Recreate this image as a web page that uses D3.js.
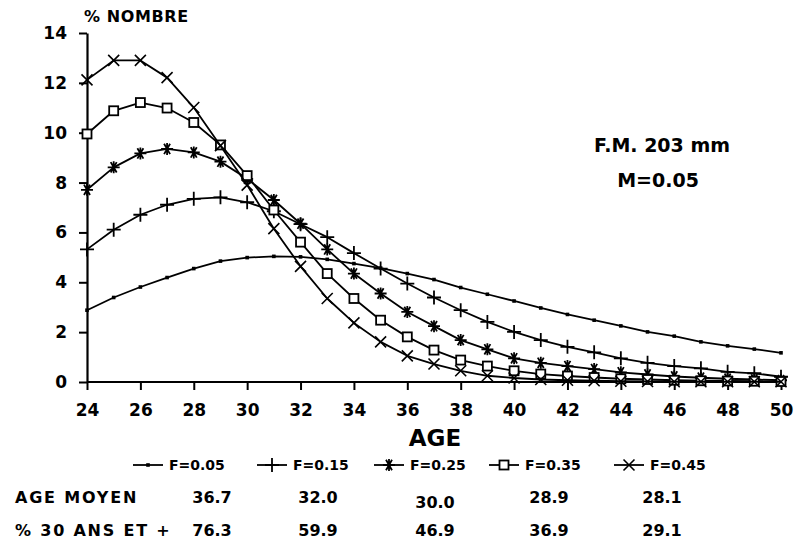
<!DOCTYPE html>
<html>
<head>
<meta charset="utf-8">
<script src="https://cdn.jsdelivr.net/npm/d3@7"></script>
<style>
  html, body { margin: 0; padding: 0; background: #fff; }
  svg { display: block; font-family: "DejaVu Sans", Arial, Helvetica, sans-serif; font-weight: bold; }
</style>
</head>
<body>
<svg id="chart" width="794" height="553"></svg>
<script>
// Ages (years) along the x axis
const ages = d3.range(24, 51);

// Percentage of fish at each age, one array per fishing mortality
const f005 = [2.88, 3.39, 3.81, 4.19, 4.55, 4.85, 4.99, 5.04, 5.02, 4.92, 4.75, 4.57, 4.35, 4.11,
              3.79, 3.52, 3.25, 2.97, 2.71, 2.48, 2.25, 2.01, 1.84, 1.61, 1.45, 1.32, 1.17];
const f015 = [5.32, 6.11, 6.71, 7.11, 7.35, 7.41, 7.21, 6.85, 6.33, 5.81, 5.17, 4.55, 3.95, 3.39,
              2.88, 2.41, 2.01, 1.68, 1.41, 1.19, 0.95, 0.77, 0.64, 0.55, 0.41, 0.35, 0.21];
const f025 = [7.71, 8.61, 9.17, 9.35, 9.21, 8.84, 8.15, 7.30, 6.35, 5.32, 4.35, 3.55, 2.81, 2.24,
              1.68, 1.31, 0.95, 0.77, 0.64, 0.52, 0.39, 0.30, 0.22, 0.17, 0.13, 0.10, 0.07];
const f035 = [9.95, 10.88, 11.21, 10.99, 10.41, 9.51, 8.28, 6.90, 5.61, 4.35, 3.35, 2.48, 1.81, 1.28,
              0.88, 0.64, 0.45, 0.32, 0.24, 0.18, 0.13, 0.10, 0.07, 0.05, 0.04, 0.03, 0.02];
const f045 = [12.12, 12.90, 12.90, 12.21, 11.01, 9.48, 7.90, 6.15, 4.64, 3.35, 2.37, 1.61, 1.05, 0.72,
              0.45, 0.25, 0.16, 0.10, 0.07, 0.05, 0.03, 0.02, 0.01, 0.01, 0.01, 0.01, 0.01];

const seriesNames = ["F=0.05", "F=0.15", "F=0.25", "F=0.35", "F=0.45"];
const seriesValues = [f005, f015, f025, f035, f045];
const markerKinds = ["dot", "plus", "star", "square", "cross"];

// Summary table below the legend
const meanAge = ["36.7", "32.0", "30.0", "28.9", "28.1"];
const pct30Plus = ["76.3", "59.9", "46.9", "36.9", "29.1"];

const xTicks = d3.range(24, 51, 2);
const yTicks = d3.range(0, 15, 2);

const svg = d3.select("#chart");
const ink = "#000";
const face = "'DejaVu Sans', Arial, sans-serif";

const x = d3.scaleLinear().domain([24, 50]).range([87, 781]);
const y = d3.scaleLinear().domain([0, 14]).range([382, 33]);

// Axes
const xAxis = d3.axisBottom(x).tickValues(xTicks).tickSize(8).tickPadding(14).tickSizeOuter(0);
const yAxis = d3.axisLeft(y).tickValues(yTicks).tickSize(8).tickPadding(12).tickSizeOuter(0);

const gx = svg.append("g").attr("transform", `translate(0,${y(0)})`).call(xAxis);
const gy = svg.append("g").attr("transform", `translate(${x(24)},0)`).call(yAxis);

[gx, gy].forEach(g => {
  g.select(".domain").attr("stroke", ink).attr("stroke-width", 2.2);
  g.selectAll(".tick line").attr("stroke", ink).attr("stroke-width", 2);
  g.selectAll(".tick text")
    .attr("fill", ink)
    .style("font-size", "17px")
    .style("font-weight", "bold")
    .style("font-family", face);
});
gx.select(".domain").attr("d", `M${x(24)},0H${x(50) + 5}`);

// Axis titles
svg.append("text")
  .attr("x", 84).attr("y", 22)
  .style("font-size", "16px").style("letter-spacing", "0.6px")
  .text("% NOMBRE");

svg.append("text")
  .attr("x", 435).attr("y", 446)
  .attr("text-anchor", "middle")
  .style("font-size", "23px")
  .text("AGE");

// Annotation
svg.append("text")
  .attr("x", 662).attr("y", 152)
  .attr("text-anchor", "middle")
  .style("font-size", "19px")
  .text("F.M. 203 mm");
svg.append("text")
  .attr("x", 658).attr("y", 187)
  .attr("text-anchor", "middle")
  .style("font-size", "19px")
  .text("M=0.05");

// Marker glyphs
function drawMarker(g, kind, cx, cy) {
  const s = g.append("g").attr("transform", `translate(${cx},${cy})`)
    .attr("stroke", ink).attr("fill", "none");
  if (kind === "dot") {
    s.append("rect").attr("x", -1.8).attr("y", -1.8).attr("width", 3.6).attr("height", 3.6)
      .attr("fill", ink).attr("stroke", "none");
  } else if (kind === "plus") {
    s.append("path").attr("d", "M-7,0H7M0,-7V7").attr("stroke-width", 1.8);
  } else if (kind === "star") {
    s.append("path").attr("d", "M-6,0H6M-3,-5.2L3,5.2M3,-5.2L-3,5.2M0,-6V6").attr("stroke-width", 1.8);
  } else if (kind === "square") {
    s.append("rect").attr("x", -4.5).attr("y", -4.5).attr("width", 9).attr("height", 9)
      .attr("fill", "#fff").attr("stroke-width", 1.8);
  } else if (kind === "cross") {
    s.append("path").attr("d", "M-5.5,-5.5L5.5,5.5M5.5,-5.5L-5.5,5.5").attr("stroke-width", 1.6);
  }
}

const line = d3.line().x((d, i) => x(ages[i])).y(d => y(d));

seriesValues.forEach((vals, si) => {
  const g = svg.append("g").attr("class", "series");
  g.append("path")
    .attr("d", line(vals))
    .attr("fill", "none")
    .attr("stroke", ink)
    .attr("stroke-width", 1.8)
    .attr("stroke-linejoin", "round");
  vals.forEach((v, i) => drawMarker(g, markerKinds[si], x(ages[i]), y(v)));
});

// Legend
const legendX = [133, 257, 374, 489, 614];
const legendY = 465;
seriesNames.forEach((name, i) => {
  const g = svg.append("g");
  const x0 = legendX[i];
  g.append("line")
    .attr("x1", x0).attr("x2", x0 + 30)
    .attr("y1", legendY).attr("y2", legendY)
    .attr("stroke", ink).attr("stroke-width", 1.8);
  drawMarker(g, markerKinds[i], x0 + 15, legendY);
  g.append("text")
    .attr("x", x0 + 36).attr("y", legendY + 5)
    .style("font-size", "14px")
    .text(name);
});

// Summary table
const colX = [212, 318, 435, 549, 662];
svg.append("text").attr("x", 15).attr("y", 503)
  .style("font-size", "16px").style("letter-spacing", "1.8px").text("AGE MOYEN");
svg.append("text").attr("x", 15).attr("y", 536)
  .style("font-size", "16px").style("letter-spacing", "1.8px").text("% 30 ANS ET +");
meanAge.forEach((v, i) => {
  svg.append("text").attr("x", colX[i]).attr("y", i === 2 ? 508 : 503)
    .attr("text-anchor", "middle")
    .style("font-size", "16px").text(v);
});
pct30Plus.forEach((v, i) => {
  svg.append("text").attr("x", colX[i]).attr("y", 536)
    .attr("text-anchor", "middle")
    .style("font-size", "16px").text(v);
});
</script>
</body>
</html>
